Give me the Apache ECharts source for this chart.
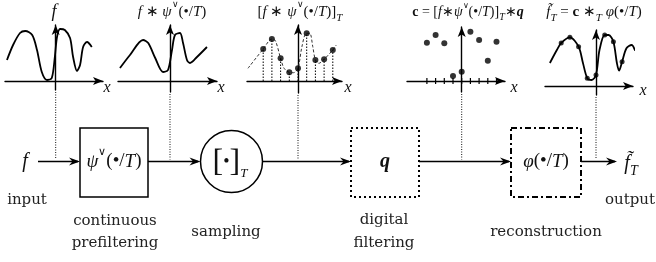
<!DOCTYPE html>
<html lang="en">
<head>
<meta charset="UTF-8">
<title>sampling pipeline</title>
<script src="https://cdn.jsdelivr.net/npm/echarts@6/dist/echarts.min.js"></script>
<style>
  html, body { margin: 0; padding: 0; background: #fff; }
  #chart { width: 656px; height: 262px; }
</style>
</head>
<body>
<div id="chart"></div>
<script>
// x in units of the sampling step T, y in arbitrary amplitude units

// input signal f
var fT = [-5.6, -4.9, -4.1, -3.5, -2.7, -2.15, -1.6, -1.0, -0.45, -0.1, 0.15, 0.5, 1.05, 1.65, 2.0, 2.45, 2.8, 3.15, 3.6, 4.15];
var fY = [21, 36, 48, 50, 46, 31, 9, 1, 3, 24, 44, 52, 51, 43, 24, 10, 16, 34, 39, 34];

// prefiltered signal f * psi
var gT = [-5.75, -4.6, -3.1, -2.5, -1.7, -0.8, -0.23, 0.23, 0.57, 1.15, 1.5, 1.95, 2.3, 3.1, 4.25];
var gY = [13, 26, 41, 38, 23, 9, 11, 31, 46, 48, 38, 21, 18, 24, 34];

// faint curve behind the samples
var hT = [-5.75, -4, -3, -2.6, -2, -1.6, -1, -0.5, 0, 0.45, 0.95, 1.35, 1.7, 2, 2.4, 3, 4, 4.4];
var hY = [12.7, 32, 42, 40.3, 22.7, 12.7, 8.7, 8.3, 12.7, 34.3, 47.7, 47.7, 34.3, 21, 17.7, 21.7, 31, 36];

// samples [f * psi]_T and digitally filtered coefficients c
var sampleT = [-4, -3, -2, -1, 0, 1, 2, 3, 4];
var sampleY = [32, 42, 22.7, 8.7, 12.7, 47.7, 21, 21.7, 31];
var cY = [38.3, 46, 37.7, 5, 9.3, 49.3, 41, 20.3, 39.3];

// reconstruction
var rT = [-5.3, -4.5, -4, -3, -2, -1.5, -1, -0.5, 0, 0.4, 1, 1.45, 2, 2.4, 2.65, 3, 3.5, 4.1, 4.5];
var rY = [23, 36, 43, 48.7, 39.3, 23, 7.7, 6, 11, 36, 51, 51, 44.3, 23, 15.3, 24.3, 37.7, 41, 35.3];
var rSampleT = [-4, -3, -2, -1, 0, 1, 2, 3];
var rSampleY = [43, 48.7, 39.3, 7.7, 11, 51, 44.3, 24.3];

function zip(a, b) { return a.map(function (v, i) { return [v, b[i]]; }); }

var U = 8.7; // pixels per step T
var plots = [
  { left: 5, right: 103, ax: 55.7, ay: 81, top: 25, bottom: 90 },
  { left: 118, right: 217, ax: 170, ay: 81, top: 25, bottom: 92 },
  { left: 247, right: 342, ax: 298, ay: 81, top: 25, bottom: 93 },
  { left: 407, right: 505, ax: 461.7, ay: 81, top: 27, bottom: 92 },
  { left: 545, right: 633, ax: 596, ay: 86, top: 30, bottom: 95 }
];

var axisLine = { show: true, onZero: true, symbol: ['none', 'arrow'], symbolSize: [6, 10],
  lineStyle: { color: '#000', width: 1.4 } };
var grids = [], xAxes = [], yAxes = [];
plots.forEach(function (p) {
  grids.push({ left: p.left, top: p.top, width: p.right - p.left, height: p.bottom - p.top });
  xAxes.push({ type: 'value', gridIndex: grids.length - 1, min: (p.left - p.ax) / U, max: (p.right - p.ax) / U,
    axisLine: axisLine, axisTick: { show: false }, axisLabel: { show: false }, splitLine: { show: false } });
  yAxes.push({ type: 'value', gridIndex: grids.length - 1, min: p.ay - p.bottom, max: p.ay - p.top,
    axisLine: axisLine, axisTick: { show: false }, axisLabel: { show: false }, splitLine: { show: false } });
});

function curve(i, t, y, style) {
  return { type: 'line', xAxisIndex: i, yAxisIndex: i, data: zip(t, y), smooth: 0.3, showSymbol: false,
    clip: false, silent: true, lineStyle: style };
}
function dots(i, t, y, size) {
  return { type: 'scatter', xAxisIndex: i, yAxisIndex: i, data: zip(t, y), symbolSize: size,
    clip: false, itemStyle: { color: '#000' }, z: 5 };
}

var series = [
  curve(0, fT, fY, { color: '#000', width: 1.8 }),
  curve(1, gT, gY, { color: '#000', width: 1.8 }),
  curve(2, hT, hY, { color: '#333', width: 1, type: [3, 2] }),
  { type: 'custom', xAxisIndex: 2, yAxisIndex: 2, data: zip(sampleT, sampleY), clip: false,
    renderItem: function (params, api) {
      var a = api.coord([api.value(0), 0]), b = api.coord([api.value(0), api.value(1)]);
      return { type: 'line', shape: { x1: a[0], y1: a[1], x2: b[0], y2: b[1] },
        style: { stroke: '#000', lineWidth: 1, lineDash: [1.5, 1.5] } };
    } },
  dots(2, sampleT, sampleY, 6),
  { type: 'custom', xAxisIndex: 3, yAxisIndex: 3, data: sampleT.map(function (t) { return [t, 0]; }), clip: false,
    renderItem: function (params, api) {
      var a = api.coord([api.value(0), 0]);
      return { type: 'line', shape: { x1: a[0], y1: a[1] - 3, x2: a[0], y2: a[1] + 3 },
        style: { stroke: '#000', lineWidth: 1.2 } };
    } },
  dots(3, sampleT, cY, 6),
  curve(4, rT, rY, { color: '#000', width: 1.8 }),
  dots(4, rSampleT, rSampleY, 5)
];

// ---- block diagram
var SERIF = 'Liberation Serif';
function mkRich(s) {
  var lh = Math.round(s * 1.5);
  return {
    n: { fontFamily: SERIF, fontSize: s, lineHeight: lh, fill: '#111' },
    i: { fontFamily: SERIF, fontSize: s, fontStyle: 'italic', lineHeight: lh, fill: '#111' },
    b: { fontFamily: SERIF, fontSize: s, fontWeight: 'bold', lineHeight: lh, fill: '#111' },
    bi: { fontFamily: SERIF, fontSize: s, fontWeight: 'bold', fontStyle: 'italic', lineHeight: lh, fill: '#111' },
    sp: { fontFamily: SERIF, fontSize: Math.round(s * 0.6), lineHeight: Math.round(s * 0.6), verticalAlign: 'top', fill: '#111' },
    sb: { fontFamily: SERIF, fontSize: Math.round(s * 0.7), fontStyle: 'italic', lineHeight: Math.round(s * 0.7), verticalAlign: 'bottom', fill: '#111' },
    bk: { fontFamily: SERIF, fontSize: Math.round(s * 1.8), lineHeight: Math.round(s * 2), fill: '#111' }
  };
}
function math(x, y, text, size) {
  return { type: 'text', silent: true, style: { x: x, y: y, text: text, rich: mkRich(size),
    align: 'center', verticalAlign: 'middle', fill: '#111' } };
}
function word(x, y, text) {
  return { type: 'text', silent: true, style: { x: x, y: y, text: text, fill: '#222',
    font: '15px "DejaVu Serif"', align: 'center', verticalAlign: 'middle' } };
}
function seg(x1, x2, y) {
  return { type: 'line', silent: true, shape: { x1: x1, y1: y, x2: x2, y2: y }, style: { stroke: '#000', lineWidth: 1.6 } };
}
function head(x, y) {
  return { type: 'polygon', silent: true, shape: { points: [[x, y], [x - 11, y - 4], [x - 7.5, y], [x - 11, y + 4]] },
    style: { fill: '#000' } };
}

var LY = 161.5;
var graphic = [
  seg(38, 78, LY), head(80, LY),
  seg(148, 198, LY), head(200.5, LY),
  seg(262.5, 349, LY), head(351, LY),
  seg(419, 509, LY), head(511, LY),
  seg(581, 615, LY), head(617, LY),
  { type: 'rect', shape: { x: 80, y: 128, width: 68, height: 69 }, style: { fill: 'none', stroke: '#000', lineWidth: 1.5 } },
  { type: 'circle', shape: { cx: 231.5, cy: LY, r: 31 }, style: { fill: '#fff', stroke: '#000', lineWidth: 1.5 } },
  { type: 'rect', shape: { x: 351, y: 128, width: 68, height: 69 }, style: { fill: 'none', stroke: '#000', lineWidth: 2, lineDash: [2, 3] } },
  { type: 'rect', shape: { x: 511, y: 128, width: 70, height: 69 }, style: { fill: 'none', stroke: '#000', lineWidth: 2, lineDash: [6, 3, 2, 3] } },

  math(25, LY, '{i|f}', 20),
  math(114, LY, '{i|ψ}{sp|∨}{n|(•/}{i|T}{n|)}', 19),
  math(230, LY + 1, '{bk|[}{n|•}{bk|]}{sb|T}', 18),
  math(385, LY, '{bi|q}', 20),
  math(546, LY, '{i|φ}{n|(•/}{i|T}{n|)}', 19),
  math(631, LY + 2, '{i|f̃}{sb|T}', 20),

  math(54, 12, '{i|f}', 18),
  math(172, 12, '{i|f}{n| ∗ }{i|ψ}{sp|∨}{n|(•/}{i|T}{n|)}', 15),
  math(300, 12, '{n|[}{i|f}{n| ∗ }{i|ψ}{sp|∨}{n|(•/}{i|T}{n|)]}{sb|T}', 15),
  math(468, 12, '{b|c}{n| = [}{i|f}{n|∗}{i|ψ}{sp|∨}{n|(•/}{i|T}{n|)]}{sb|T}{n|∗}{bi|q}', 14),
  math(594, 12, '{i|f̃}{sb|T}{n| = }{b|c}{n| ∗}{sb|T}{n| }{i|φ}{n|(•/}{i|T}{n|)}', 15),

  math(107, 88, '{i|x}', 16),
  math(221, 88, '{i|x}', 16),
  math(348, 88, '{i|x}', 16),
  math(514, 88, '{i|x}', 16),
  math(643, 91, '{i|x}', 16),

  word(27, 200, 'input'),
  word(115, 221, 'continuous'),
  word(115, 243, 'prefiltering'),
  word(226, 232, 'sampling'),
  word(384, 220, 'digital'),
  word(384, 243, 'filtering'),
  word(546, 232, 'reconstruction'),
  word(630, 200, 'output')
];
// dotted drop lines from each plot to the signal path
plots.forEach(function (p) {
  graphic.push({ type: 'line', silent: true, shape: { x1: p.ax, y1: p.bottom + 2, x2: p.ax, y2: LY - 2 },
    style: { stroke: '#111', lineWidth: 1, lineDash: [1, 1.5] } });
});

var myChart = echarts.init(document.getElementById('chart'));
myChart.setOption({
  animation: false,
  grid: grids,
  xAxis: xAxes,
  yAxis: yAxes,
  series: series,
  graphic: graphic
});
</script>
</body>
</html>
